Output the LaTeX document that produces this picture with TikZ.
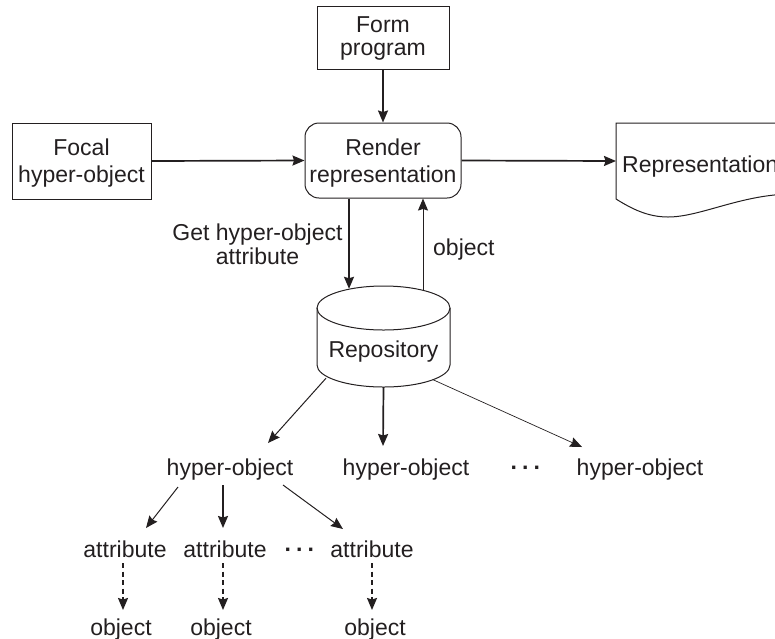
\documentclass[tikz,border=0pt]{standalone}
\usepackage{fontspec}
\setmainfont{Liberation Sans}
\usetikzlibrary{arrows.meta}
\definecolor{ink}{HTML}{231F20}
\begin{document}
\begin{tikzpicture}[x=1pt,y=-1pt,
  font=\fontsize{23}{24}\selectfont,
  boxnode/.style={draw=ink, line width=1pt, inner sep=0pt},
  txt/.style={text=ink, inner sep=0pt, anchor=base},
  dots/.style={txt, font=\fontsize{23}{24}\selectfont\bfseries},
  arr/.style={draw=ink, line width=1.7pt, -{Stealth[length=12pt,width=10pt,inset=1.5pt]}},
  thinarr/.style={arr, line width=1pt},
  hairarr/.style={arr, line width=0.7pt},
  dasharr/.style={arr, line width=1.6pt, dash pattern=on 5pt off 3.5pt}]
\useasboundingbox (0,0) rectangle (775,638);

% boxes
\node[boxnode, minimum width=132pt, minimum height=63pt] (form) at (383,37.5) {};
\node[boxnode, rounded corners=14pt, minimum width=156pt, minimum height=75pt] (render) at (383,160.5) {};
\node[boxnode, minimum width=139pt, minimum height=76pt] (focal) at (81.5,161) {};

% document shape for the output representation
\node[inner sep=0pt, minimum width=170pt, minimum height=76pt, anchor=west] (repr) at (616,161) {};
\draw[draw=ink, line width=1pt]
  (790,123) -- (616,123) -- (616,199)
  .. controls (632,209) and (648,217) .. (668,217)
  .. controls (700,217) and (740,195) .. (790,194);

% repository cylinder
\node[inner sep=0pt, minimum width=133pt, minimum height=101pt] (repo) at (383.5,336.5) {};
\draw[draw=ink, line width=1pt]
  (383.5,308) ellipse [x radius=66.5pt, y radius=22pt];
\draw[draw=ink, line width=1pt]
  (317,308) -- (317,365) arc[start angle=180, end angle=360, x radius=66.5pt, y radius=22pt] -- (450,308);

% box texts
\node[txt] (formA) at (383,32) {Form};
\node[txt] (formB) at (383,55) {program};
\node[txt] (focalA) at (81.5,155) {Focal};
\node[txt] (focalB) at (81.5,182) {hyper-object};
\node[txt] (renderA) at (383,155) {Render};
\node[txt] (renderB) at (383,182) {representation};
\node[txt, anchor=base west] (reprT) at (622,172) {Representation};
\node[txt] (repoT) at (383.5,357) {Repository};

% edge labels
\node[txt] (getA) at (257.5,240) {Get hyper-object};
\node[txt] (getB) at (257.5,264) {attribute};
\node[txt, anchor=base west] (objlbl) at (433,255) {object};

% lower tree
\node[txt] (h1) at (230,475) {hyper-object};
\node[txt] (h2) at (406,475) {hyper-object};
\node[dots] (hd) at (526,475) {·\,·\,·};
\node[txt] (h3) at (640,475) {hyper-object};

\node[txt] (a1) at (125,557) {attribute};
\node[txt] (a2) at (225,557) {attribute};
\node[dots] (ad) at (300,557) {·\,·\,·};
\node[txt] (a3) at (372,557) {attribute};

\node[txt] (o1) at (121,635) {object};
\node[txt] (o2) at (221,635) {object};
\node[txt] (o3) at (375,635) {object};

% connectors
\draw[arr] (form.south) -- (render.north);
\draw[arr] (focal.east) -- (render.west);
\draw[arr] (render.east) -- (repr.west);
\draw[arr] ([shift={(-34,0)}]render.south) -- ([shift={(-34.5,3)}]repo.north);
\draw[thinarr] ([shift={(39.5,4)}]repo.north) -- ([shift={(40,0)}]render.south);

\draw[thinarr] ([shift={(-57.5,-9)}]repo.south) -- ([shift={(38,-32)}]h1.base);
\draw[arr] (repo.south) -- ([shift={(-23,-29)}]h2.base);
\draw[hairarr] ([shift={(49.5,-7.5)}]repo.south) -- ([shift={(-58,-28)}]h3.base);

\draw[thinarr] ([shift={(-52,12)}]h1.base) -- ([shift={(21,-29)}]a1.base);
\draw[arr] ([shift={(-7,10)}]h1.base) -- ([shift={(-2,-29)}]a2.base);
\draw[thinarr] ([shift={(53,10)}]h1.base) -- ([shift={(-29,-28)}]a3.base);

\draw[dasharr] ([shift={(-2,6)}]a1.base) -- ([shift={(2,-25)}]o1.base);
\draw[dasharr] ([shift={(-2,6)}]a2.base) -- ([shift={(2,-25)}]o2.base);
\draw[dasharr] ([shift={(0,6)}]a3.base) -- ([shift={(-3,-25)}]o3.base);
\end{tikzpicture}
\end{document}
